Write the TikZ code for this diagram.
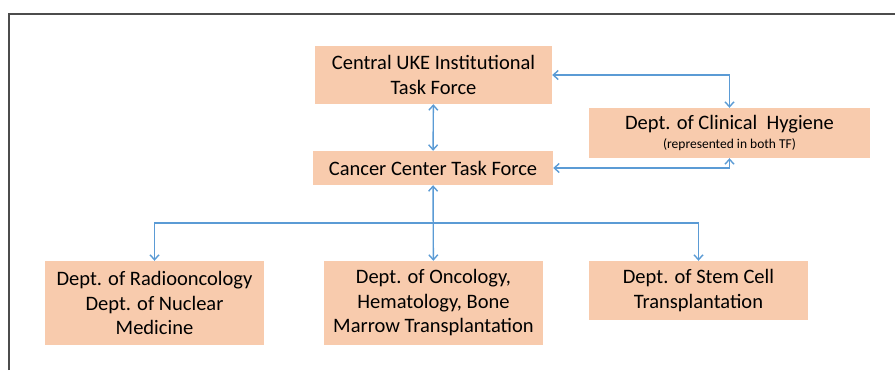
\documentclass[tikz,border=0pt]{standalone}
\usepackage{fontspec}
\setmainfont{Carlito}
\usetikzlibrary{arrows.meta}
\definecolor{peach}{HTML}{F8CBAD}
\definecolor{linkblue}{HTML}{5B9BD5}
\begin{document}
\begin{tikzpicture}[x=1pt, y=-1pt,
  box/.style={fill=peach, inner sep=2pt, font=\fontsize{20.5}{24.5}\selectfont, align=center},
  arr/.style={->, >={Straight Barb[length=5pt,width=9pt]}, linkblue, line width=1.4pt},
  darr/.style={<->, >={Straight Barb[length=5pt,width=9pt]}, linkblue, line width=1.4pt}
]
\useasboundingbox (0,0) rectangle (895,370);
% frame
\draw[black!70, line width=1.5pt] (9,370) -- (9,14) -- (895,14);
\node[box, minimum width=237pt, minimum height=58pt] (central)  at (433.5, 75)  {Central UKE Institutional\\Task Force};
\node[box, minimum width=240pt, minimum height=34pt] (cancer)   at (433, 168)   {Cancer Center Task Force};
\node[box, minimum width=281pt, minimum height=50pt] (hygiene)  at (729.5, 133) {Dept. of Clinical~ Hygiene\\[-5pt]{\fontsize{13.5}{15}\selectfont (represented in both TF)}};
\node[box, minimum width=219pt, minimum height=84pt] (radio)    at (154.5, 303) {Dept. of Radiooncology\\Dept. of Nuclear\\Medicine};
\node[box, minimum width=219pt, minimum height=84pt] (oncology) at (433.5, 303) {Dept. of Oncology,\\Hematology, Bone\\Marrow Transplantation};
\node[box, minimum width=219pt, minimum height=59pt] (stem)     at (698.5, 290.5) {Dept. of Stem Cell\\Transplantation};
\coordinate (split) at (433, 223);
\draw[darr] (central) -- (cancer);
\draw[darr] (central.east) -| (hygiene.north);
\draw[darr] (cancer.east) -| (hygiene.south);
\draw[darr] (cancer) -- (oncology);
\draw[arr] (split) -| (radio);
\draw[arr] (split) -| (stem);
\end{tikzpicture}
\end{document}
